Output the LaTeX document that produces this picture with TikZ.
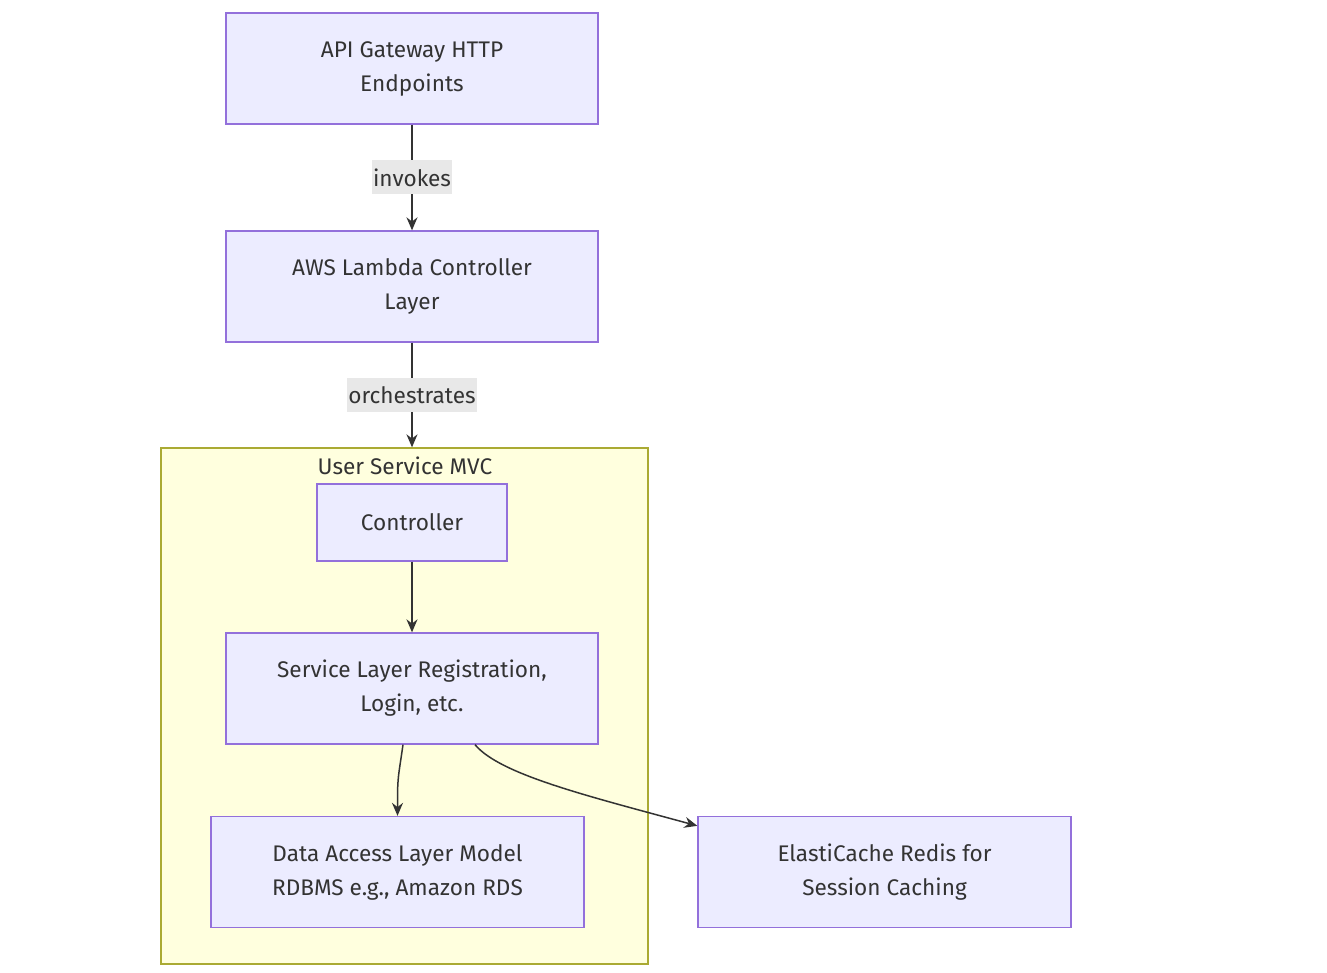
\documentclass[tikz,border=0pt]{standalone}
\usepackage{fontspec}
\setmainfont{Fira Sans}
\usetikzlibrary{arrows.meta,positioning}
\definecolor{nodefill}{HTML}{ECECFF}
\definecolor{nodeline}{HTML}{9370DB}
\definecolor{clusterfill}{HTML}{FFFFDE}
\definecolor{clusterline}{HTML}{AAAA33}
\definecolor{ink}{HTML}{333333}
\definecolor{labelfill}{HTML}{E8E8E8}
\begin{document}
\begin{tikzpicture}[x=1pt,y=-1pt,
    component/.style ={rectangle, draw=nodeline, fill=nodefill, line width=1.3pt,
      minimum width=372pt, minimum height=111pt, align=center, text=ink,
      font=\fontsize{22.6}{34}\selectfont},
    twoline/.style ={component, execute at begin node={\rule{0pt}{29pt}}},
    cluster/.style ={rectangle, draw=clusterline, fill=clusterfill, line width=1.3pt,
      minimum width=487pt, minimum height=516pt},
    edgelabel/.style ={fill=labelfill, text=ink, inner xsep=1pt, minimum height=34pt,
      font=\fontsize{22.6}{27}\selectfont},
    flow/.style ={draw=ink, line width=1.5pt, -{Stealth[length=13pt,width=11pt]}}]
   \useasboundingbox (0,0) rectangle (1327,973);
   \node[cluster] (mvc) at (404.5,706) {};
   \node[text=ink, font=\fontsize{22.6}{27}\selectfont] (mvctitle) at (405,466) {User Service MVC};
   \node[twoline] (gateway) at (412,68.5) {API Gateway HTTP\\Endpoints};
   \node[twoline] (lambda) at (412,286.5) {AWS Lambda Controller\\Layer};
   \node[component, minimum width=190pt, minimum height=77pt] (controller) at (412,522.5) {Controller};
   \node[twoline] (service) at (412,688.5) {Service Layer Registration,\\Login, etc.};
   \node[twoline, minimum width=373pt] (dataaccess) at (397.5,872) {Data Access Layer Model\\RDBMS e.g., Amazon RDS};
   \node[twoline, minimum width=373pt] (cache) at (884.5,872) {ElastiCache Redis for\\Session Caching};
   \draw[flow] (gateway) to node[edgelabel] {invokes} (lambda);
   \draw[flow] (lambda) to node[edgelabel] {orchestrates} (lambda |- mvc.north);
   \draw[flow] (controller) to (service);
   \draw[flow] ([xshift=-9pt]service.south) .. controls +(-5,35) and +(0,-40) .. (dataaccess.north);
   \draw[flow] ([xshift=63pt]service.south) .. controls +(25,30) and +(-110,-30) .. ([yshift=-10pt]cache.north west);
 \end{tikzpicture}
\end{document}
